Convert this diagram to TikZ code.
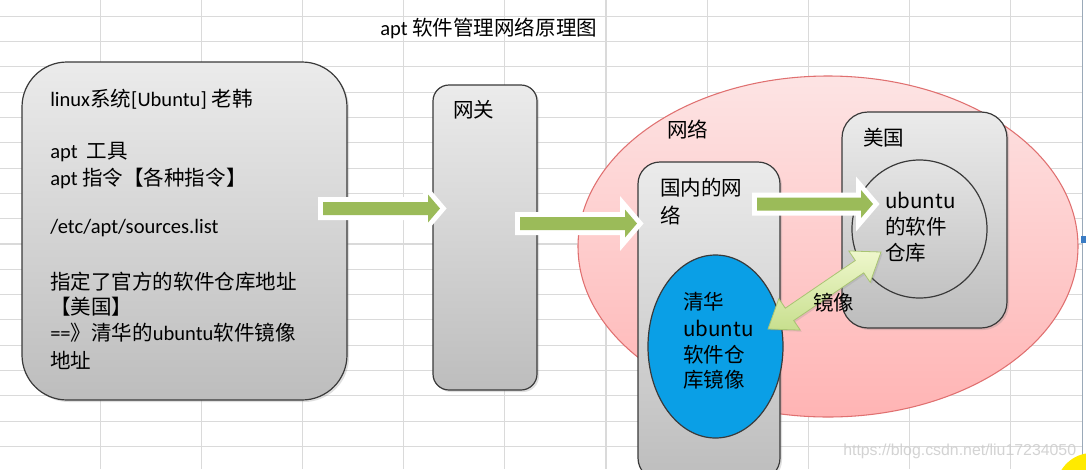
\documentclass[tikz,border=0pt]{standalone}
\usepackage{fontspec}
\setmainfont{Carlito}
\newfontfamily\cjk{Noto Sans CJK SC}
\newfontfamily\wmfont{Liberation Sans}
\usetikzlibrary{shapes.geometric,shadows,calc}
\definecolor{gridc}{HTML}{DADADA}
\definecolor{agreen}{HTML}{9BBB59}
\definecolor{pinkf1}{HTML}{FDE4E4}
\definecolor{pinkf2}{HTML}{FFB4B4}
\definecolor{pinkd}{HTML}{E07070}
\definecolor{blueF}{HTML}{0A9FE6}
\definecolor{boxd}{HTML}{3A3A3A}
\definecolor{gtop}{HTML}{EBEBEB}
\definecolor{gbot}{HTML}{BDBDBD}
\definecolor{ctop}{HTML}{E4E4E4}
\definecolor{cbot}{HTML}{C2C2C2}
\definecolor{lg1}{HTML}{EEF7CC}
\definecolor{lg2}{HTML}{C8DF8E}
\definecolor{lgd}{HTML}{A9C473}
\definecolor{edgec}{HTML}{9AA9B8}
\definecolor{markc}{HTML}{3A7CC4}
\definecolor{yel}{HTML}{FFEA00}
\tikzset{
  txt/.style={inner sep=0pt, anchor=west, font=\fontsize{15.4pt}{19pt}\selectfont, text=black},
  graybox/.style={rectangle, draw=boxd, line width=0.9pt, top color=gtop, bottom color=gbot, inner sep=0pt,
    drop shadow={opacity=0.25, shadow xshift=1.5pt, shadow yshift=-1.5pt}},
  gridline/.style={gridc, line width=0.8pt},
}
% single-headed block arrow: #1 options, #2 start, #3 tip, #4 head length, #5 shaft half width, #6 head half width
\newcommand\blockarrow[6]{%
  \path[#1] ($(#2)!#5!90:(#3)$) -- ($($(#3)!#4!(#2)$)!#5!-90:(#2)$) -- ($($(#3)!#4!(#2)$)!#6!-90:(#2)$) -- (#3)
    -- ($($(#3)!#4!(#2)$)!#6!90:(#2)$) -- ($($(#3)!#4!(#2)$)!#5!90:(#2)$) -- ($(#2)!#5!-90:(#3)$) -- cycle;}
% double-headed block arrow
\newcommand\dblarrow[6]{%
  \path[#1] (#2) -- ($($(#2)!#4!(#3)$)!#6!90:(#3)$) -- ($($(#2)!#4!(#3)$)!#5!90:(#3)$)
    -- ($($(#3)!#4!(#2)$)!#5!-90:(#2)$) -- ($($(#3)!#4!(#2)$)!#6!-90:(#2)$) -- (#3)
    -- ($($(#3)!#4!(#2)$)!#6!90:(#2)$) -- ($($(#3)!#4!(#2)$)!#5!90:(#2)$)
    -- ($($(#2)!#4!(#3)$)!#5!-90:(#3)$) -- ($($(#2)!#4!(#3)$)!#6!-90:(#3)$) -- cycle;}
\begin{document}
\begin{tikzpicture}[x=0.75pt,y=-0.75pt]
\useasboundingbox (0,0) rectangle (1086,469);
\clip (0,0) rectangle (1086,469);
\fill[white] (0,0) rectangle (1086,469);
% spreadsheet grid
\foreach \i in {0,...,9} \draw[gridline] ({100.5+101.1*\i},0) -- ({100.5+101.1*\i},469);
\foreach \j in {0,...,17} \draw[gridline] (0,{16.3+25.3*\j}) -- (1082,{16.3+25.3*\j});
\draw[edgec, line width=1.2pt] (1082.5,0) -- (1082.5,469);
\fill[markc] (1081,236) rectangle (1086,243);

% shapes
\node[ellipse, draw=pinkd, line width=0.8pt, top color=pinkf1, bottom color=pinkf2,
      minimum width=375pt, minimum height=255.75pt, inner sep=0pt] (net) at (828,246.5) {};
\node[graybox, rounded corners=33.75pt, minimum width=243.75pt, minimum height=253.5pt] (lbox) at (184.5,231) {};
\node[graybox, rounded corners=12pt, minimum width=78pt, minimum height=228.75pt] (gw) at (485,237.5) {};
\node[graybox, rounded corners=16.5pt, minimum width=106.5pt, minimum height=238.5pt] (cn) at (709,321) {};
\node[ellipse, draw=boxd, line width=0.9pt, fill=blueF, minimum width=101.25pt, minimum height=137.25pt, inner sep=0pt] (th) at (715.5,346.5) {};
\node[graybox, rounded corners=19.5pt, minimum width=123.75pt, minimum height=162pt] (us) at (924.5,220) {};
\node[ellipse, draw=boxd, line width=0.9pt, top color=ctop, bottom color=cbot, minimum width=101.25pt, minimum height=103.5pt, inner sep=0pt] (repo) at (919.5,229) {};

% texts
\node[txt] (title) at (380,28) {apt {\cjk 软件管理网络原理图}};
\node[txt] (l1) at (50,99) {linux{\cjk 系统}[Ubuntu] {\cjk 老韩}};
\node[txt] (l2) at (50,152) {apt\ \ {\cjk 工具}};
\node[txt] (l3) at (50,178) {apt {\cjk 指令【各种指令】}};
\node[txt] (l4) at (50,228) {/etc/apt/sources.list};
\node[txt] (l5) at (50,282) {\cjk 指定了官方的软件仓库地址};
\node[txt] (l6) at (50,307) {\cjk 【美国】};
\node[txt] (l7) at (50,333) {=={\cjk 》清华的}ubuntu{\cjk 软件镜像}};
\node[txt] (l8) at (50,360) {\cjk 地址};
\node[txt] (gwl) at (453,110) {\cjk 网关};
\node[txt] (netl) at (667,130) {\cjk 网络};
\node[txt] (cn1) at (660,188) {\cjk 国内的网};
\node[txt] (cn2) at (660,215) {\cjk 络};
\node[txt] (th1) at (683,302) {\cjk 清华};
\node[txt] (th2) at (683,328) {\cjk ubuntu};
\node[txt] (th3) at (683,355) {\cjk 软件仓};
\node[txt] (th4) at (683,380) {\cjk 库镜像};
\node[txt] (usl) at (863,138) {\cjk 美国};
\node[txt] (r1) at (885,200) {\cjk ubuntu};
\node[txt] (r2) at (885,227) {\cjk 的软件};
\node[txt] (r3) at (885,253) {\cjk 仓库};

% green block arrows
\coordinate (a1s) at (323,208.5); \coordinate (a1e) at (440,208.5);
\coordinate (a2s) at (520,223.5); \coordinate (a2e) at (637,223.5);
\coordinate (a3s) at (757,204);   \coordinate (a3e) at (873,204);
\foreach \s/\e in {a1s/a1e,a2s/a2e,a3s/a3e}{
  \blockarrow{draw=white,fill=white,line width=7.5pt,line join=miter,
     drop shadow={opacity=0.15, shadow xshift=1pt, shadow yshift=-1pt}}{\s}{\e}{9pt}{4.875pt}{10.5pt}
  \blockarrow{fill=agreen}{\s}{\e}{9pt}{4.875pt}{10.5pt}
}
% mirror double arrow
\coordinate (m1) at (768,329); \coordinate (m2) at (881,252);
\dblarrow{top color=lg1,bottom color=lg2,draw=lgd,line width=0.6pt,line join=miter,
   drop shadow={opacity=0.2, shadow xshift=1.2pt, shadow yshift=-1.2pt}}{m1}{m2}{19.5pt}{5.6pt}{14.25pt}
\node[txt] (mirl) at (813,303) {\cjk 镜像};

% watermark and cursor highlight
\node[inner sep=0pt, anchor=west, font=\wmfont\fontsize{11.9pt}{13pt}\selectfont, text=gray!40, opacity=0.85] (wm) at (843,451) {https://blog.csdn.net/liu17234050};
\fill[yel] (1092,489) circle (36);
\end{tikzpicture}
\end{document}
